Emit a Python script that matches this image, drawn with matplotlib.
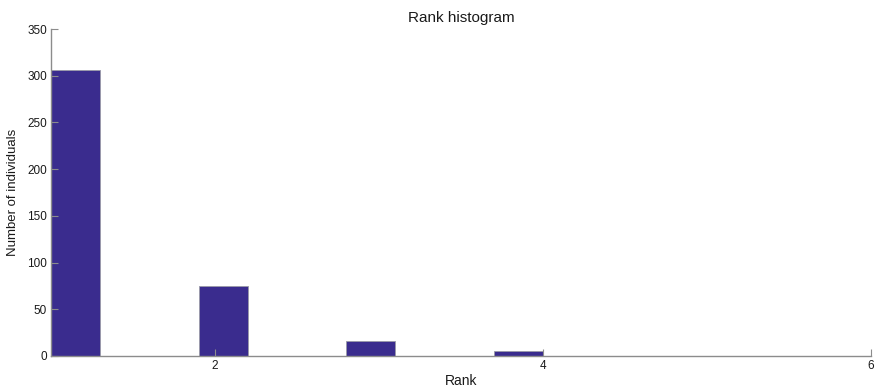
import numpy as np
import matplotlib
matplotlib.use("Agg")
import matplotlib.pyplot as plt

plt.rcParams['font.family'] = ['Liberation Sans', 'DejaVu Sans']

# Rank of each individual and how many individuals hold it
ranks = [1, 2, 3, 4]
counts = [306, 75, 16, 5]
n_bins = 10

y_ticks = [0, 50, 100, 150, 200, 250, 300, 350]
x_ticks = [2, 4, 6]

bar_color = '#3a2c8e'
axis_color = '#8c8c8c'
text_color = '#1a1a1a'

# Ten equal-width bins spanning the rank range, weighted by the counts
hist, edges = np.histogram(ranks, bins=n_bins, weights=counts)
centers = (edges[:-1] + edges[1:]) / 2
width = edges[1] - edges[0]

fig = plt.figure(figsize=(8.8, 3.91), dpi=100)
ax = fig.add_axes([51 / 880, 35 / 391, 820 / 880, 327 / 391])

ax.bar(centers, hist, width=width, color=bar_color,
       edgecolor='#9a9aa8', linewidth=0.6)

ax.set_xlim(1, 6)
ax.set_ylim(0, 350)
ax.set_xticks(x_ticks)
ax.set_yticks(y_ticks)

for side in ('top', 'right'):
    ax.spines[side].set_visible(False)
for side in ('left', 'bottom'):
    ax.spines[side].set_color(axis_color)
    ax.spines[side].set_linewidth(1.0)

ax.tick_params(direction='in', length=5, width=0.8, colors=axis_color,
               labelcolor=text_color, labelsize=8.5, pad=3)

ax.set_title('Rank histogram', fontsize=11, color=text_color, pad=5)
ax.set_xlabel('Rank', fontsize=10, color=text_color, labelpad=1)
ax.set_ylabel('Number of individuals', fontsize=9.5, color=text_color, labelpad=6)

fig.savefig('out.png', dpi=100)
